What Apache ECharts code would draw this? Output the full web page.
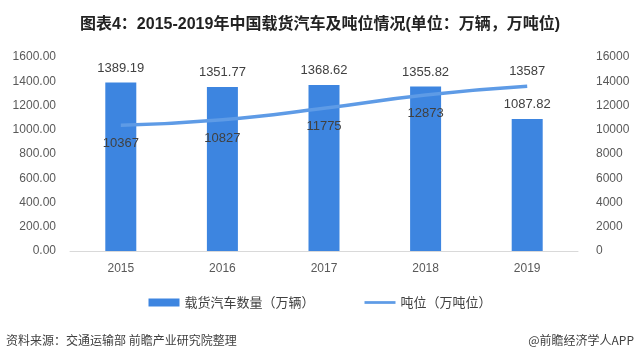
<!DOCTYPE html>
<html><head><meta charset="utf-8">
<script src="https://cdn.jsdelivr.net/npm/echarts@6/dist/echarts.min.js"></script>
<style>html,body{margin:0;padding:0;background:#fff}#c{width:640px;height:359px}</style>
</head><body><div id="c"></div>
<script>
const categories = ['2015','2016','2017','2018','2019'];
const vehicles = [1389.19, 1351.77, 1368.62, 1355.82, 1087.82];
const tonnage = [10367, 10827, 11775, 12873, 13587];
const leftTicks = {min:0, max:1600, interval:200};
const rightTicks = {min:0, max:16000, interval:2000};

const chart = echarts.init(document.getElementById('c'));
const ff = '"Liberation Sans Narrow","Liberation Sans","Noto Sans CJK SC",sans-serif';
const ffc = '"Noto Sans CJK SC",sans-serif';
const fl = '"Liberation Sans",sans-serif';
chart.setOption({
  animation:false,
  textStyle:{fontFamily:ffc},
  title:{text:'图表4：2015-2019年中国载货汽车及吨位情况(单位：万辆，万吨位)', left:'center', top:12,
    textStyle:{fontSize:16, fontWeight:'bold', color:'#222', fontFamily:ff}},
  grid:{left:70, right:62, top:57, bottom:108},
  legend:{bottom:45, left:'center', itemGap:50, itemWidth:31, itemHeight:8,
    textStyle:{fontSize:13, color:'#404040', fontFamily:ffc},
    data:[{name:'载货汽车数量（万辆）', icon:'rect'},
          {name:'吨位（万吨位）', icon:'path://M0,3 L34,3 L34,6 L0,6 Z', itemStyle:{color:'#5e9be6'}}]},
  xAxis:{type:'category', data:categories,
    axisLine:{lineStyle:{color:'#d9d9d9'}}, axisTick:{show:false},
    axisLabel:{color:'#595959', fontSize:12, margin:12, fontFamily:fl}},
  yAxis:[
    {type:'value', min:leftTicks.min, max:leftTicks.max, interval:leftTicks.interval,
      splitLine:{show:false}, axisLine:{show:false}, axisTick:{show:false},
      axisLabel:{color:'#595959', fontSize:12, margin:14, formatter:v=>v.toFixed(2), fontFamily:fl}},
    {type:'value', min:rightTicks.min, max:rightTicks.max, interval:rightTicks.interval,
      splitLine:{show:false}, axisLine:{show:false}, axisTick:{show:false},
      axisLabel:{color:'#595959', fontSize:12, margin:18, formatter:v=>String(v), fontFamily:fl}}
  ],
  series:[
    {name:'载货汽车数量（万辆）', type:'bar', data:vehicles, barWidth:31, itemStyle:{color:'#3d85e0'},
      label:{show:true, position:'top', distance:8, color:'#404040', fontSize:13, fontFamily:fl,
        formatter:p=>p.value.toFixed(2)}},
    {name:'吨位（万吨位）', type:'line', yAxisIndex:1, smooth:true, symbol:'circle', symbolSize:0, showSymbol:true,
      lineStyle:{color:'#5e9be6', width:3.5}, itemStyle:{color:'#5e9be6'},
      label:{show:true, color:'#404040', fontSize:13, fontFamily:fl},
      data: tonnage.map((v,i)=>({value:v,
        label:{show:true, position: i===tonnage.length-1 ? 'top' : 'bottom', distance: i===tonnage.length-1 ? 8 : 12}}))}
  ],
  graphic:[
    {type:'text', left:6, top:334, style:{text:'资料来源：交通运输部 前瞻产业研究院整理', fontSize:12, fill:'#404040', fontFamily:ffc}},
    {type:'text', right:6, top:334, style:{text:'@前瞻经济学人APP', fontSize:12, fill:'#404040', fontFamily:ffc}}
  ]
});
</script></body></html>
